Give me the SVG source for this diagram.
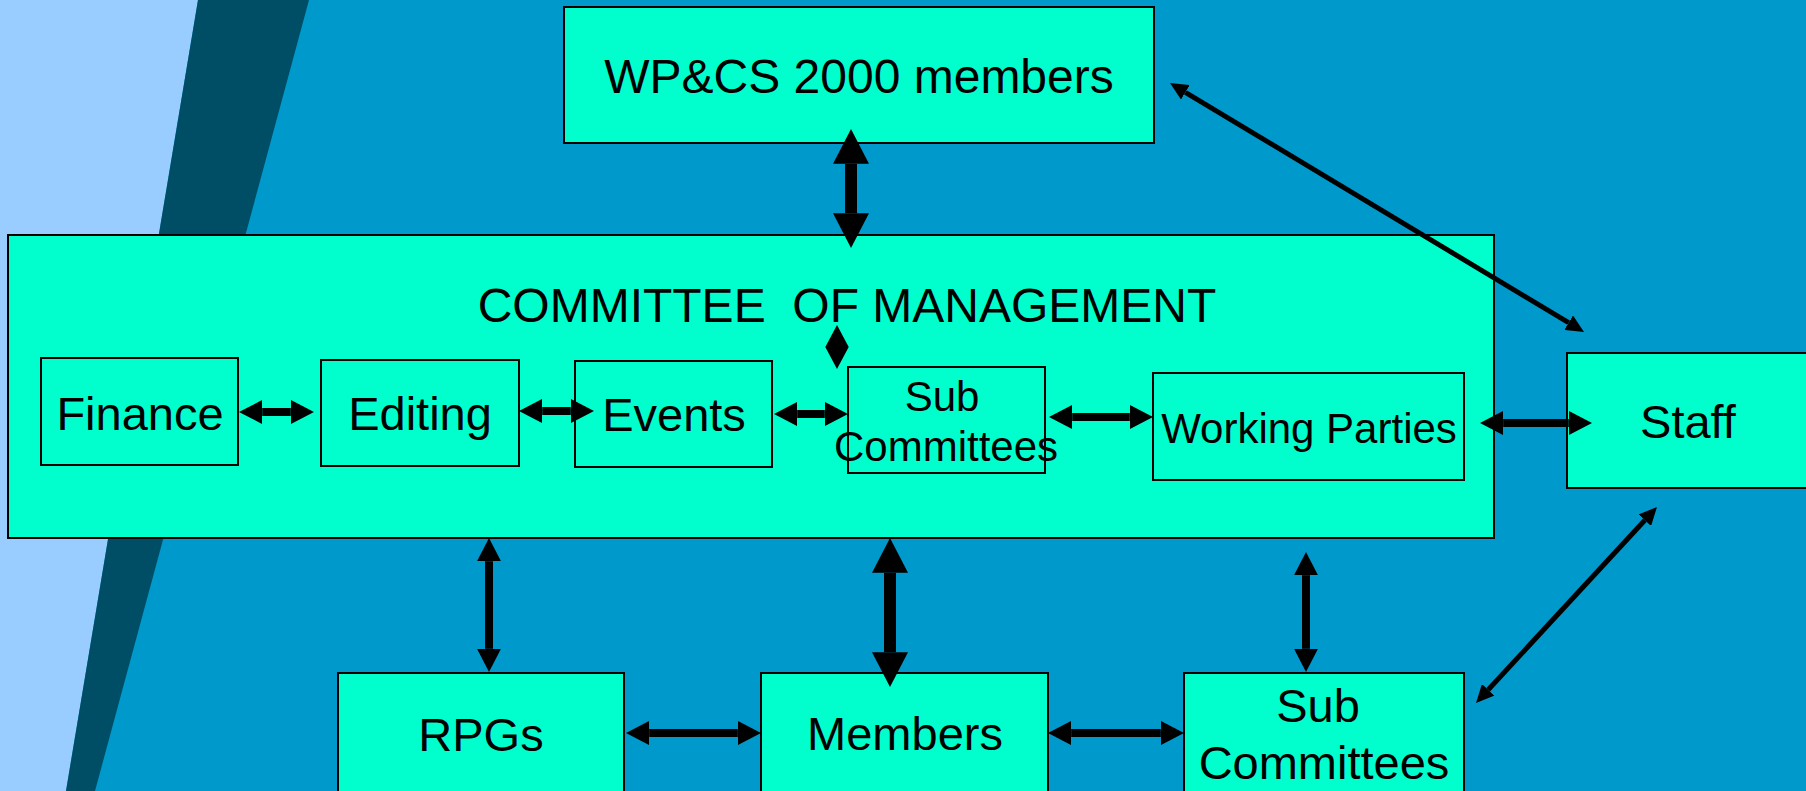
<svg xmlns="http://www.w3.org/2000/svg" width="1806" height="791" viewBox="0 0 1806 791">
  <style>
    .box { fill: #00FFCC; stroke: #000000; stroke-width: 2; }
    .t { font-family: "Liberation Sans", Arial, sans-serif; fill: #000000; text-anchor: middle; }
    .t47 { font-size: 47px; }
    .t48 { font-size: 48px; }
    .t42 { font-size: 42px; }
    .arr { stroke: #000000; fill: none; marker-start: url(#head); marker-end: url(#head); }
    .thin { stroke: #000000; fill: none; stroke-width: 5; marker-start: url(#headThin); marker-end: url(#headThin); }
  </style>
  <defs>
    <marker id="head" viewBox="0 -1.5 2.9 3" refX="0" refY="0" markerWidth="2.9" markerHeight="3" markerUnits="strokeWidth" orient="auto-start-reverse">
      <path d="M0,-1.5 L2.9,0 L0,1.5 Z" fill="#000000"/>
    </marker>
    <marker id="headThin" viewBox="0 -1.7 3.6 3.4" refX="0" refY="0" markerWidth="3.6" markerHeight="3.4" markerUnits="strokeWidth" orient="auto-start-reverse">
      <path d="M0,-1.7 L3.6,0 L0,1.7 Z" fill="#000000"/>
    </marker>
  </defs>

  <g id="background">
    <rect x="0" y="0" width="1806" height="791" fill="#0099CC"/>
    <polygon points="0,0 198,0 66,791 0,791" fill="#99CCFF"/>
    <polygon points="198,0 309,0 95,791 66,791" fill="#004D66"/>
  </g>

  <g id="node-wpcs">
    <rect class="box" x="564" y="7" width="590" height="136"/>
    <text class="t t48" x="859" y="93">WP&amp;CS 2000 members</text>
  </g>

  <g id="node-committee">
    <rect class="box" x="8" y="235" width="1486" height="303"/>
    <text class="t t48" x="847" y="322" xml:space="preserve">COMMITTEE  OF MANAGEMENT</text>
  </g>

  <g id="node-finance">
    <rect class="box" x="41" y="358" width="197" height="107"/>
    <text class="t t47" x="140" y="430">Finance</text>
  </g>

  <g id="node-editing">
    <rect class="box" x="321" y="360" width="198" height="106"/>
    <text class="t t47" x="420" y="430">Editing</text>
  </g>

  <g id="node-events">
    <rect class="box" x="575" y="361" width="197" height="106"/>
    <text class="t t47" x="674" y="431">Events</text>
  </g>

  <g id="node-subcommittees-inner">
    <rect class="box" x="848" y="367" width="197" height="106"/>
    <text class="t t42" x="942" y="411">Sub</text>
    <text class="t t42" x="946" y="461">Committees</text>
  </g>

  <g id="node-working-parties">
    <rect class="box" x="1153" y="373" width="311" height="107"/>
    <text class="t t42" x="1309" y="443">Working Parties</text>
  </g>

  <g id="node-staff">
    <rect class="box" x="1567" y="353" width="260" height="135"/>
    <text class="t t47" x="1688" y="438">Staff</text>
  </g>

  <g id="node-rpgs">
    <rect class="box" x="338" y="673" width="286" height="140"/>
    <text class="t t47" x="481" y="751">RPGs</text>
  </g>

  <g id="node-members">
    <rect class="box" x="761" y="673" width="287" height="140"/>
    <text class="t t47" x="905" y="750">Members</text>
  </g>

  <g id="node-subcommittees-bottom">
    <rect class="box" x="1184" y="673" width="280" height="140"/>
    <text class="t t47" x="1318" y="722">Sub</text>
    <text class="t t47" x="1324" y="779">Committees</text>
  </g>

  <g id="connectors">
    <!-- big arrows: stroke 12, head length 34.8 -->
    <line class="arr" stroke-width="12" x1="851" y1="163.8" x2="851" y2="213.2"/>
    <line class="arr" stroke-width="12" x1="890" y1="572.8" x2="890" y2="652.2"/>
    <!-- medium arrows: stroke 8, head length 23.2 -->
    <line class="arr" stroke-width="8" x1="262.2" y1="412" x2="290.8" y2="412"/>
    <line class="arr" stroke-width="8" x1="542.2" y1="411" x2="570.8" y2="411"/>
    <line class="arr" stroke-width="8" x1="797.2" y1="414" x2="824.8" y2="414"/>
    <line class="arr" stroke-width="8" x1="1072.2" y1="417" x2="1129.8" y2="417"/>
    <line class="arr" stroke-width="8" x1="1503.2" y1="423" x2="1568.8" y2="423"/>
    <line class="arr" stroke-width="8" x1="489" y1="561.2" x2="489" y2="648.8"/>
    <line class="arr" stroke-width="8" x1="1306" y1="575.2" x2="1306" y2="648.8"/>
    <line class="arr" stroke-width="8" x1="649.2" y1="733" x2="737.8" y2="733"/>
    <line class="arr" stroke-width="8" x1="1071.2" y1="733" x2="1160.8" y2="733"/>
    <!-- thin diagonal arrows: stroke 5, head length 18 -->
    <line class="thin" x1="1185.4" y1="92.3" x2="1568.6" y2="322.7"/>
    <line class="thin" x1="1644.8" y1="520.2" x2="1488.2" y2="689.8"/>
    <!-- small shaftless double head -->
    <polygon points="837,325 848.7,347 837,369 825.3,347" fill="#000000"/>
  </g>
</svg>
